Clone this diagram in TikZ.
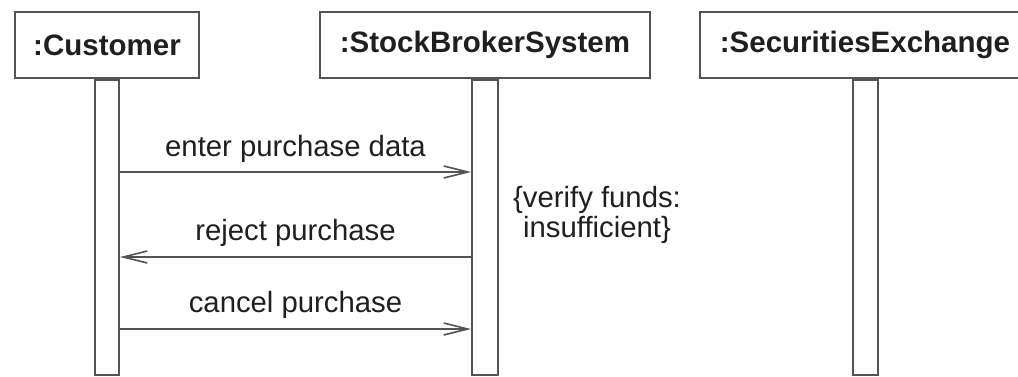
\documentclass[tikz,border=0pt]{standalone}
\usepackage{fontspec}
\setmainfont{Liberation Sans}
\usetikzlibrary{arrows.meta}
\definecolor{ln}{gray}{0.33}
\definecolor{tx}{gray}{0.12}
\tikzset{
  objbox/.style={draw=ln, line width=2.2pt, minimum height=66pt, inner sep=0pt, text=tx, font=\fontsize{29.5}{30}\selectfont\bfseries},
  actbar/.style={draw=ln, line width=2pt, fill=white, minimum width=24pt, minimum height=295pt, inner sep=0pt, anchor=north},
  msg/.style={draw=ln, line width=1.8pt, -{Straight Barb[length=24pt,width=12pt,line width=1.6pt]}},
  lbl/.style={text=tx, font=\fontsize{29.3}{30}\selectfont, inner sep=0pt},
}
\begin{document}
\begin{tikzpicture}[x=1pt,y=-1pt]
\useasboundingbox (0,0) rectangle (1018,377);
\clip (0,0) rectangle (1018,377);
\fill[white] (0,0) rectangle (1018,377);
% objects
\node[objbox, minimum width=184pt] (cust) at (107,45) {:Customer};
\node[objbox, minimum width=330pt] (sbs) at (485,45) {:StockBrokerSystem};
\node[objbox, minimum width=330pt] (sec) at (865,45) {:SecuritiesExchange};
% activation bars
\node[actbar] (cbar) at (cust.south) {};
\node[actbar, minimum width=26pt] (sbar) at (sbs.south) {};
\node[actbar, minimum width=25pt] (ebar) at (sec.south) {};
% message anchor points
\coordinate (m1a) at (cbar.east |- 0,172);
\coordinate (m1b) at (sbar.west |- 0,172);
\coordinate (m2a) at (sbar.west |- 0,257);
\coordinate (m2b) at (cbar.east |- 0,257);
\coordinate (m3a) at (cbar.east |- 0,329);
\coordinate (m3b) at (sbar.west |- 0,329);
% messages
\draw[msg] (m1a) -- node[lbl, above=9pt] (l1) {enter purchase data} (m1b);
\draw[msg] (m2a) -- node[lbl, above=10pt] (l2) {reject purchase} (m2b);
\draw[msg] (m3a) -- node[lbl, above=10pt] (l3) {cancel purchase} (m3b);
% constraint
\node[lbl, align=center, font=\fontsize{29.3}{29.5}\selectfont] (cons) at (597,215) {\{verify funds:\\insufficient\}};
\end{tikzpicture}
\end{document}
